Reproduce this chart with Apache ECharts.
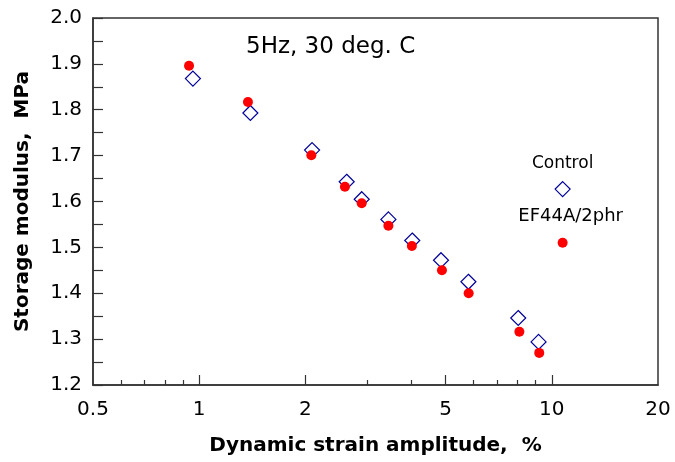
<!DOCTYPE html>
<html>
<head>
<meta charset="utf-8">
<script src="https://cdn.jsdelivr.net/npm/echarts@6/dist/echarts.min.js"></script>
<style>
html,body{margin:0;padding:0;background:#fff;}
#chart{width:675px;height:462px;}
</style>
</head>
<body>
<div id="chart"></div>
<script>
// Data
var strainCtrl  = [0.96, 1.397, 2.09, 2.62, 2.89, 3.44, 4.02, 4.85, 5.80, 8.03, 9.17];
var modulusCtrl = [1.868, 1.793, 1.712, 1.643, 1.605, 1.561, 1.515, 1.472, 1.425, 1.346, 1.294];
var strainEF    = [0.936, 1.375, 2.08, 2.59, 2.89, 3.44, 4.01, 4.88, 5.81, 8.09, 9.21];
var modulusEF   = [1.896, 1.817, 1.701, 1.632, 1.596, 1.547, 1.503, 1.450, 1.400, 1.316, 1.270];
var seriesNames = ['Control', 'EF44A/2phr'];
var keyStrain   = [10.73, 10.73];
var keyModulus  = [1.627, 1.510];
var xTickLabels = [0.5, 1, 2, 5, 10, 20];
var xMajorTicks = [1, 2, 5, 10];
var xMinorTicks = [0.6, 0.7, 0.8, 0.9, 3, 4, 6, 7, 8, 9];
var yMin = 1.2, yMax = 2.0, yStep = 0.1;
var annotation = '5Hz, 30 deg. C';
var xTitle = 'Dynamic strain amplitude,  %';
var yTitle = 'Storage modulus,  MPa';

function pairs(xs, ys) { return xs.map(function (x, i) { return [x, ys[i]]; }); }

var FONT = 'DejaVu Sans';
var AX = '#333';
var chart = echarts.init(document.getElementById('chart'), null, {renderer: 'canvas'});
var option = {
  animation: false,
  backgroundColor: '#fff',
  title: {
    text: annotation, left: 241, top: 31,
    textStyle: {fontFamily: FONT, fontSize: 23, fontWeight: 'normal', color: '#000'}
  },
  grid: {left: 93, right: 17, top: 18, bottom: 77, show: true, borderColor: AX, borderWidth: 1.5, backgroundColor: 'transparent'},
  xAxis: [{
    type: 'log', logBase: 10, min: 0.5, max: 20, position: 'bottom',
    name: xTitle, nameLocation: 'middle', nameGap: 51,
    nameTextStyle: {fontFamily: FONT, fontSize: 20, fontWeight: 'bold', color: '#000'},
    axisLine: {show: true, onZero: false, lineStyle: {color: AX, width: 1.5}},
    axisTick: {show: true, inside: true, length: 10, customValues: xMajorTicks, lineStyle: {color: AX, width: 1.2}},
    axisLabel: {show: true, customValues: xTickLabels, margin: 15, fontFamily: FONT, fontSize: 20, color: '#000',
      formatter: function (v) { return String(v); }},
    splitLine: {show: false}, minorTick: {show: false}
  }, {
    type: 'log', logBase: 10, min: 0.5, max: 20, position: 'bottom', offset: 0,
    axisLine: {show: false},
    axisTick: {show: true, inside: true, length: 5, customValues: xMinorTicks, lineStyle: {color: AX, width: 1.2}},
    axisLabel: {show: false}, splitLine: {show: false}
  }],
  yAxis: {
    type: 'value', min: yMin, max: yMax, interval: yStep,
    name: yTitle, nameLocation: 'middle', nameGap: 60,
    nameTextStyle: {fontFamily: FONT, fontSize: 20, fontWeight: 'bold', color: '#000'},
    axisLine: {show: true, onZero: false, lineStyle: {color: AX, width: 1.5}},
    axisTick: {show: true, inside: true, length: 10, lineStyle: {color: AX, width: 1.2}},
    minorTick: {show: true, splitNumber: 2, length: 10, lineStyle: {color: AX, width: 1.2}},
    axisLabel: {margin: 11, fontFamily: FONT, fontSize: 20, color: '#000',
      formatter: function (v) { return v.toFixed(1); }},
    splitLine: {show: false}, minorSplitLine: {show: false}
  },
  series: [{
    name: seriesNames[0], type: 'scatter', xAxisIndex: 0,
    data: pairs(strainCtrl, modulusCtrl),
    symbol: 'diamond', symbolSize: [15, 15],
    itemStyle: {color: '#fff', borderColor: '#000099', borderWidth: 1.2, opacity: 1}, z: 2
  }, {
    name: seriesNames[1], type: 'scatter', xAxisIndex: 0,
    data: pairs(strainEF, modulusEF),
    symbol: 'circle', symbolSize: 10,
    itemStyle: {color: '#ff0000', opacity: 1}, z: 3
  }, {
    name: 'key-' + seriesNames[0], type: 'scatter', xAxisIndex: 0,
    data: [[keyStrain[0], keyModulus[0]]],
    symbol: 'diamond', symbolSize: [15, 15],
    itemStyle: {color: '#fff', borderColor: '#000099', borderWidth: 1.2, opacity: 1},
    label: {show: true, position: 'top', distance: 9, formatter: seriesNames[0],
      fontFamily: FONT, fontSize: 17, color: '#000', opacity: 1, textBorderWidth: 0}, z: 2
  }, {
    name: 'key-' + seriesNames[1], type: 'scatter', xAxisIndex: 0,
    data: [[keyStrain[1], keyModulus[1]]],
    symbol: 'circle', symbolSize: 10,
    itemStyle: {color: '#ff0000', opacity: 1},
    label: {show: true, position: 'top', distance: 12, offset: [8, 0], formatter: seriesNames[1],
      fontFamily: FONT, fontSize: 18, color: '#000', opacity: 1, textBorderWidth: 0}, z: 3
  }]
};
chart.setOption(option);
</script>
</body>
</html>
